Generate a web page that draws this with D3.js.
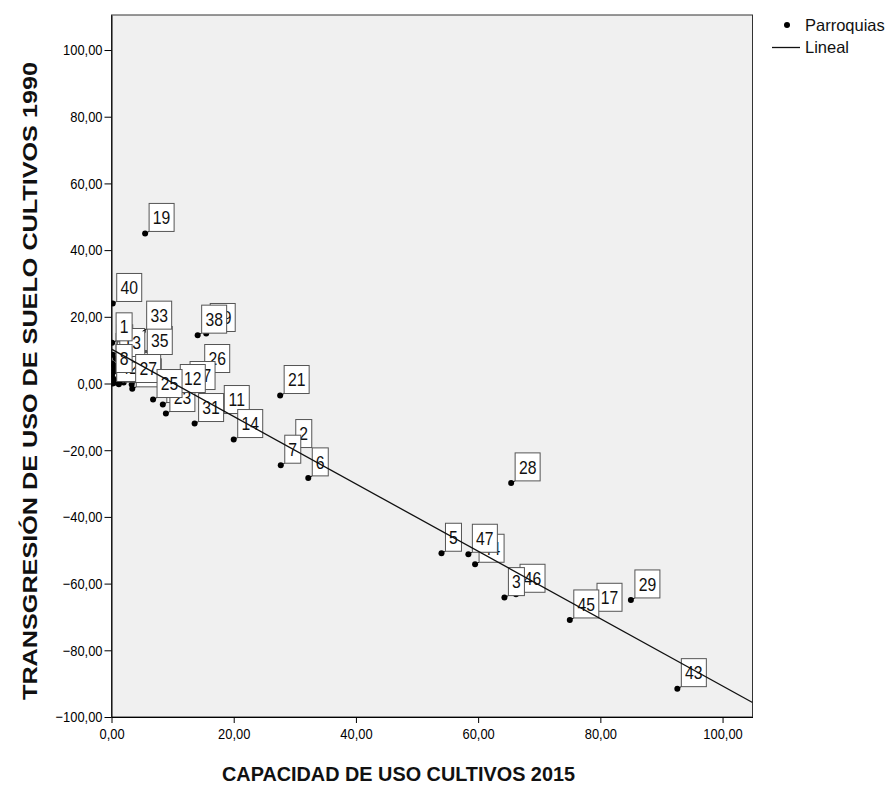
<!DOCTYPE html>
<html>
<head>
  <meta charset="utf-8">
  <title>Capacidad vs transgresión</title>
  <script src="https://cdn.jsdelivr.net/npm/d3@7"></script>
  <style>
    body { margin: 0; background: #fff; }
    text { font-family: "Liberation Sans", Arial, sans-serif; }
  </style>
</head>
<body>
<svg id="chart" width="890" height="785"></svg>
<script>
  // values; hidden (stacked) labels come first so the visible ones end on top
  const parroquias = ["9", "10", "15", "16", "18", "20", "24", "30", "4", "32", "34", "41", "42",
    "13", "8", "39", "38", "35", "33", "1", "40", "19",
    "36", "27", "26", "37", "22", "23", "12", "25", "11", "31", "14", "21",
    "2", "7", "6", "28", "44", "47", "5", "46", "3", "17", "45", "29", "43"];
  const capacidad2015 = [0.2, 0.1, 0.3, 0.2, 0.5, 1.0, 1.6, 1.2, 0.4, 0.3, 0.6, 2.0, 0.2,
    0.7, 0.1, 15.5, 14.1, 5.2, 5.1, 0.1, 0.2, 5.5,
    3.4, 3.3, 14.6, 12.2, 8.4, 8.9, 10.6, 6.8, 17.8, 13.6, 20.0, 27.6,
    29.5, 27.7, 32.2, 65.4, 59.5, 58.4, 54.0, 66.2, 64.3, 78.8, 75.0, 85.0, 92.6];
  const transgresion1990 = [8.6, 6.0, 4.5, 1.5, 0.2, 0.9, 0.6, -0.2, 5.5, 3.5, 1.0, 0.3, 0.0,
    7.5, 2.7, 15.0, 14.5, 8.1, 15.7, 12.2, 24.0, 45.0,
    -1.6, -0.3, 2.7, -2.4, -6.3, -9.0, -3.3, -4.8, -9.6, -12.0, -16.8, -3.6,
    -19.8, -24.5, -28.3, -29.8, -54.2, -51.2, -50.9, -63.2, -64.2, -68.9, -70.9, -64.9, -91.5];

  // linear fit ("Lineal") as drawn in the picture
  const fitIntercept = 10.3;
  const fitSlope = -1.01;

  const xTicks = [0, 20, 40, 60, 80, 100];
  const yTicks = [-100, -80, -60, -40, -20, 0, 20, 40, 60, 80, 100];
  const xTitle = "CAPACIDAD DE USO CULTIVOS 2015";
  const yTitle = "TRANSGRESIÓN DE USO DE SUELO CULTIVOS 1990";
  const legendLabels = ["Parroquias", "Lineal"];

  const svg = d3.select("#chart");
  const pLeft = 111.5, pRight = 752.5, pTop = 15, pBottom = 717;

  const x = d3.scaleLinear().domain([0, 104.9]).range([pLeft, pRight]);
  const y = d3.scaleLinear().domain([-100, 110.5]).range([pBottom, pTop]);

  const es = d3.formatLocale({decimal: ",", thousands: ".", grouping: [3], currency: ["", ""]});
  const fmt = es.format(".2f");

  // the original output is a bit stretched vertically: squeeze glyphs sideways
  function squeeze(sel, k) {
    sel.each(function () {
      const w = this.getComputedTextLength();
      d3.select(this).attr("textLength", w * k).attr("lengthAdjust", "spacingAndGlyphs");
    });
  }

  // plot background + frame
  svg.append("rect")
    .attr("x", pLeft).attr("y", pTop)
    .attr("width", pRight - pLeft).attr("height", pBottom - pTop)
    .attr("fill", "#f0f0f0")
    .attr("stroke", "#333");

  svg.append("clipPath").attr("id", "plotclip")
    .append("rect")
    .attr("x", pLeft).attr("y", pTop)
    .attr("width", pRight - pLeft).attr("height", pBottom - pTop);

  // axes
  const yAxis = svg.append("g")
    .attr("transform", `translate(${pLeft},0)`)
    .call(d3.axisLeft(y).tickValues(yTicks).tickFormat(fmt).tickSize(7).tickSizeOuter(0).tickPadding(2));
  const xAxis = svg.append("g")
    .attr("transform", `translate(0,${pBottom})`)
    .call(d3.axisBottom(x).tickValues(xTicks).tickFormat(fmt).tickSize(6).tickSizeOuter(0).tickPadding(5));
  [xAxis, yAxis].forEach(g => {
    g.select(".domain").attr("stroke", "#000");
    g.selectAll(".tick line").attr("stroke", "#000");
    g.selectAll(".tick text")
      .attr("fill", "#000")
      .style("font-size", "15px")
      .style("font-family", "'Liberation Sans', Arial, sans-serif")
      .call(squeeze, 0.86);
  });

  // titles
  svg.append("text")
    .attr("x", 398.5).attr("y", 781)
    .attr("text-anchor", "middle")
    .attr("font-weight", "bold")
    .attr("font-size", 21)
    .attr("fill", "#111")
    .attr("textLength", 353)
    .attr("lengthAdjust", "spacingAndGlyphs")
    .text(xTitle);
  svg.append("text")
    .attr("transform", "translate(37,381) rotate(-90)")
    .attr("text-anchor", "middle")
    .attr("font-weight", "bold")
    .attr("font-size", 21)
    .attr("fill", "#111")
    .attr("textLength", 638)
    .attr("lengthAdjust", "spacingAndGlyphs")
    .text(yTitle);

  const plot = svg.append("g").attr("clip-path", "url(#plotclip)");

  const rows = parroquias.map((p, i) => ({p, cx: capacidad2015[i], ty: transgresion1990[i]}));

  // points
  plot.append("g").selectAll("circle")
    .data(rows)
    .join("circle")
    .attr("cx", d => x(d.cx))
    .attr("cy", d => y(d.ty))
    .attr("r", 3)
    .attr("fill", "#000");

  // label boxes, lower-left corner next to the point
  const boxH = 28;
  const lab = plot.append("g").selectAll("g")
    .data(rows)
    .join("g")
    .attr("transform", d => `translate(${x(d.cx)},${y(d.ty)})`);
  lab.append("line")
    .attr("x1", 0).attr("y1", 0).attr("x2", 4).attr("y2", -2)
    .attr("stroke", "#000");
  lab.append("rect")
    .attr("x", 4).attr("y", -2 - boxH)
    .attr("width", d => d.p.length > 1 ? 25 : 16)
    .attr("height", boxH)
    .attr("fill", "#fff")
    .attr("stroke", "#555");
  lab.append("text")
    .attr("x", d => 4 + (d.p.length > 1 ? 12.5 : 8))
    .attr("y", -2 - boxH / 2)
    .attr("dy", "0.36em")
    .attr("text-anchor", "middle")
    .attr("font-size", 18.5)
    .attr("fill", "#111")
    .text(d => d.p)
    .call(squeeze, 0.85);

  // fit line over everything
  plot.append("line")
    .attr("x1", x(0)).attr("y1", y(fitIntercept))
    .attr("x2", x(104.9)).attr("y2", y(fitIntercept + fitSlope * 104.9))
    .attr("stroke", "#111")
    .attr("stroke-width", 1.3);

  // legend
  const leg = svg.append("g");
  leg.append("circle").attr("cx", 787).attr("cy", 25).attr("r", 3).attr("fill", "#000");
  leg.append("text").attr("x", 805).attr("y", 25).attr("dy", "0.35em")
    .attr("font-size", 16.5).attr("fill", "#111").text(legendLabels[0]);
  leg.append("line").attr("x1", 772).attr("x2", 800).attr("y1", 47.5).attr("y2", 47.5)
    .attr("stroke", "#111").attr("stroke-width", 1.3);
  leg.append("text").attr("x", 805).attr("y", 47.5).attr("dy", "0.35em")
    .attr("font-size", 16.5).attr("fill", "#111").text(legendLabels[1]);
</script>
</body>
</html>
